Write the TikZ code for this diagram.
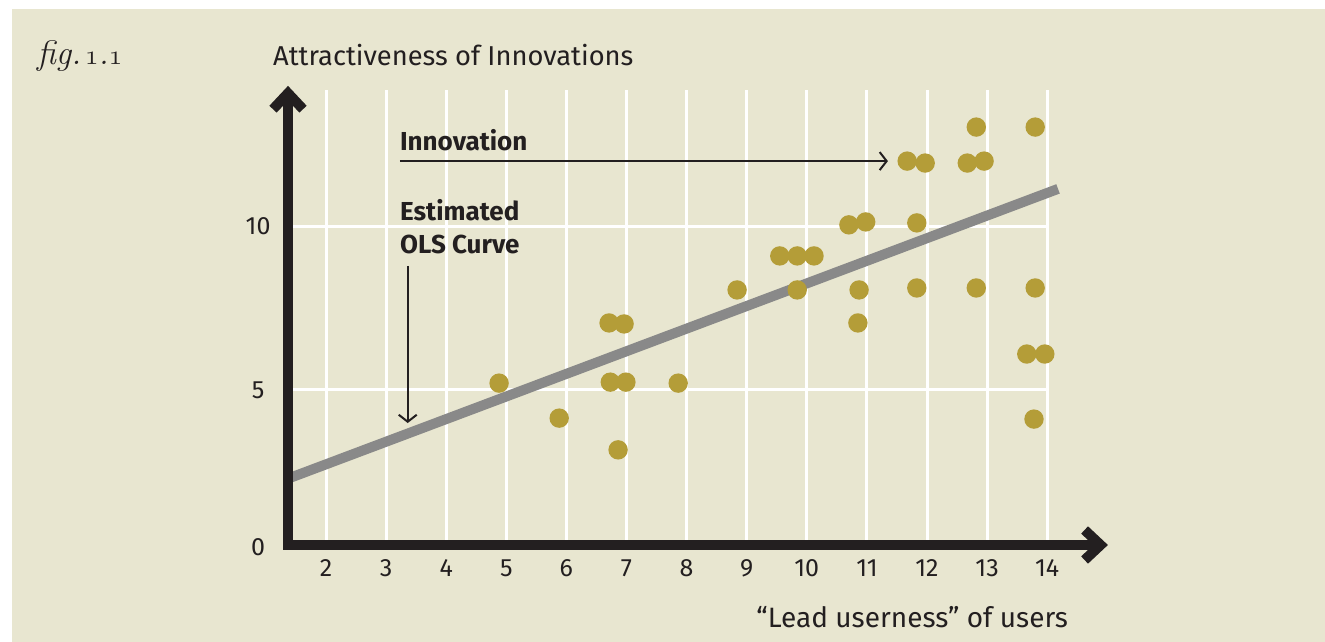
\documentclass[tikz,border=0pt]{standalone}
\usepackage{fix-cm}
\usepackage{fontspec}
\setmainfont{Fira Sans}
\newfontfamily\figfont{Latin Modern Roman}
\newcommand\figdigits[1]{{\fontsize{28}{28}\usefont{OML}{cmm}{m}{it}#1}}
\usetikzlibrary{arrows.meta}

\definecolor{paper}{HTML}{E8E6D0}
\definecolor{ink}{HTML}{231F20}
\definecolor{olsgray}{HTML}{898989}
\definecolor{dotgold}{HTML}{B49D38}

\begin{document}
\begin{tikzpicture}[
    gridline/.style={draw=white, line width=3pt},
    axisline/.style={draw=ink, line width=10pt, line join=miter,
      {Straight Barb[length=16pt,width=30pt,sharp]}-{Straight Barb[length=16pt,width=30pt,sharp]}},
    olsline/.style={draw=olsgray, line width=10pt},
    dot/.style={fill=dotgold},
    ticklab/.style={font=\fontsize{25}{25}\selectfont, text=ink, inner sep=0pt},
    note/.style={font=\bfseries\fontsize{26}{33}\selectfont, text=ink, inner sep=0pt, align=left},
    pointer/.style={draw=ink, line width=2pt, -{Straight Barb[length=7pt,width=18pt]}},
  ]
  \useasboundingbox (0,0) rectangle (1325pt,642pt);
  \fill[paper] (12pt,0) rectangle (1325pt,633pt);

  % headings
  \node[anchor=base west, inner sep=0pt, text=ink, font=\figfont\itshape\fontsize{34}{34}\selectfont]
    (fig) at (37pt,577pt) {fig.\hspace{0.1em}\figdigits{1}.\figdigits{1}};
  \node[anchor=west, inner sep=0pt, text=ink, font=\fontsize{27.3}{27.3}\selectfont]
    (title) at (273pt,587pt) {Attractiveness of Innovations};

  \begin{scope}[shift={(205.8pt,88.5pt)}, x=60.1pt, y=32.7pt]
    % grid
    \foreach \i in {2,...,14}
      \draw[gridline] (\i,0.26) -- (\i,14.17);
    \foreach \j in {5,10}
      \draw[gridline] (1.368,\j) -- (14,\j);

    % estimated curve
    \coordinate (olsstart) at (1.368,2.29);
    \coordinate (olsend) at (14.18,11.15);
    \draw[olsline] (olsstart) -- (olsend);

    % observations
    \foreach \px/\py in {4.88/5.21, 5.88/4.14, 6.71/7.05, 6.96/7.02, 6.73/5.24,
        6.99/5.24, 6.86/3.17, 7.86/5.21, 8.84/8.06, 9.55/9.10, 9.84/9.10,
        10.12/9.10, 9.84/8.06, 10.70/10.05, 10.98/10.14, 10.87/8.06, 10.85/7.05,
        11.67/12.00, 11.97/11.94, 11.83/10.11, 11.83/8.12, 12.67/11.94,
        12.95/12.00, 12.82/13.04, 12.82/8.12, 13.80/13.04, 13.80/8.12,
        13.66/6.10, 13.96/6.10, 13.78/4.11}
      \fill[dot] (\px,\py) circle (9.7pt);

    % axes
    \coordinate (ytop) at (1.368,14.3);
    \coordinate (corner) at (1.368,0.26);
    \coordinate (xtip) at (15.01,0.26);
    \draw[axisline] (ytop) -- (corner) -- (xtip);

    \foreach \i in {2,...,14}
      \node[ticklab] (x\i) at (\i,-0.45) {\i};
    \node[ticklab] (y0) at (0.87,0.2) {0};
    \node[ticklab] (y5) at (0.87,5) {5};
    \node[ticklab] (y10) at (0.87,10) {10};
    \node[ticklab, anchor=east, font=\fontsize{28}{28}\selectfont]
      (xname) at (14.35,-1.94) {``Lead userness'' of users};

    % notes
    \node[note, anchor=base west] (inno) at (3.23,12.31) {Innovation};
    \coordinate (innotip) at (11.35,12.0);
    \draw[pointer] (inno.west |- innotip) -- (innotip);

    \node[note, anchor=north west] (ols) at (3.23,10.84) {Estimated\\OLS Curve};
    \coordinate (olstip) at (3.36,3.99);
    \coordinate (olsfoot) at ([yshift=-12pt]ols.south west);
    \draw[pointer] (olsfoot -| olstip) -- (olstip);
  \end{scope}
\end{tikzpicture}
\end{document}
